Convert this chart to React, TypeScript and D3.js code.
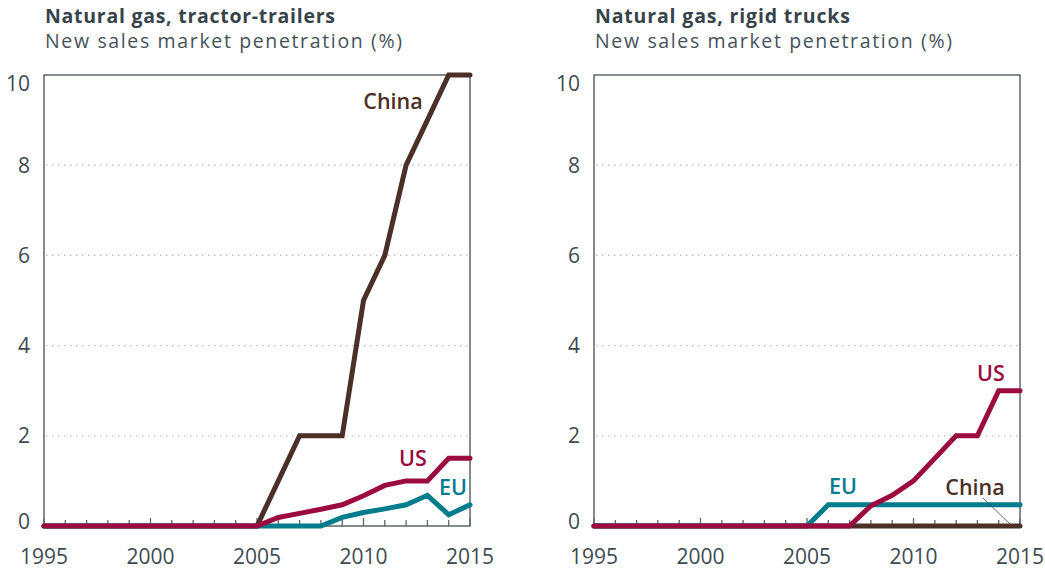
import React, { useEffect, useRef } from "react";
import * as d3 from "d3";

const years = d3.range(1995, 2016);
const yTicks = [0, 2, 4, 6, 8, 10];
const xTicks = [1995, 2000, 2005, 2010, 2015];

// Tractor-trailers
const ttChina = [0,0,0,0,0,0,0,0,0,0,0,1,2,2,2,5,6,8,9,10,10];
const ttUS    = [0,0,0,0,0,0,0,0,0,0,0,0.19,0.28,0.37,0.47,0.67,0.9,1.0,1.0,1.5,1.5];
const ttEU    = [0,0,0,0,0,0,0,0,0,0,0,0,0,0,0.19,0.3,0.38,0.47,0.68,0.25,0.47];

// Rigid trucks
const rtChina = [0,0,0,0,0,0,0,0,0,0,0,0,0,0,0,0,0,0,0,0,0];
const rtUS    = [0,0,0,0,0,0,0,0,0,0,0,0,0,0.45,0.68,1.0,1.5,2.0,2.0,3.0,3.0];
const rtEU    = [0,0,0,0,0,0,0,0,0,0,0,0.47,0.47,0.47,0.47,0.47,0.47,0.47,0.47,0.47,0.47];

const COLORS = { China: "#4b3027", US: "#9c0b3f", EU: "#007c8c" };
const TEXT = "#3e4a52";
const FONT = "'Open Sans', 'Noto Sans', sans-serif";

type Panel = {
  x0: number;
  title: string;
  titleLen: number;
  series: { name: string; values: number[] }[];
  labels: { name: string; x: number; y: number }[];
  leader?: [number, number, number, number];
};

const panels: Panel[] = [
  {
    x0: 44,
    title: "Natural gas, tractor-trailers",
    titleLen: 290,
    series: [
      { name: "China", values: ttChina },
      { name: "EU", values: ttEU },
      { name: "US", values: ttUS },
    ],
    labels: [
      { name: "China", x: 393, y: 109 },
      { name: "US", x: 413, y: 466 },
      { name: "EU", x: 453, y: 495 },
    ],
  },
  {
    x0: 594,
    title: "Natural gas, rigid trucks",
    titleLen: 255,
    series: [
      { name: "China", values: rtChina },
      { name: "EU", values: rtEU },
      { name: "US", values: rtUS },
    ],
    labels: [
      { name: "US", x: 991, y: 381 },
      { name: "EU", x: 843, y: 494 },
      { name: "China", x: 975, y: 495 },
    ],
    leader: [983, 498, 1010, 524],
  },
];

export default function App() {
  const ref = useRef<SVGSVGElement>(null);
  useEffect(() => {
    const svg = d3.select(ref.current);
    svg.selectAll("*").remove();
    const W = 426;
    const top = 75, bottom = 526;
    panels.forEach((p) => {
      const g = svg.append("g");
      const x = d3.scaleLinear().domain([1995, 2015]).range([p.x0, p.x0 + W]);
      const y = d3.scaleLinear().domain([0, 10]).range([bottom, top]);

      g.append("text").attr("x", p.x0 + 1).attr("y", 23).attr("font-family", FONT)
        .attr("font-weight", 700).attr("font-size", 19.5).attr("fill", "#37434b")
        .attr("textLength", p.titleLen).attr("lengthAdjust", "spacing").text(p.title);
      g.append("text").attr("x", p.x0 + 1).attr("y", 48).attr("font-family", FONT)
        .attr("font-size", 19.5).attr("fill", "#46525a")
        .attr("textLength", 357).attr("lengthAdjust", "spacing")
        .text("New sales market penetration (%)");

      // gridlines
      g.selectAll(".grid").data(yTicks.filter((t) => t > 0 && t < 10)).enter().append("line")
        .attr("x1", p.x0 + 2).attr("x2", p.x0 + W - 2)
        .attr("y1", (d) => y(d)).attr("y2", (d) => y(d))
        .attr("stroke", "#b8bcbf").attr("stroke-width", 1.2).attr("stroke-dasharray", "1.5,4.5");

      // frame
      g.append("rect").attr("x", p.x0).attr("y", top).attr("width", W).attr("height", bottom - top)
        .attr("fill", "none").attr("stroke", "#5d676e").attr("stroke-width", 1.5);

      // x ticks
      g.selectAll(".xt").data(years).enter().append("line")
        .attr("x1", (d) => x(d)).attr("x2", (d) => x(d))
        .attr("y1", bottom).attr("y2", (d) => bottom - (d % 5 === 0 ? 8 : 6))
        .attr("stroke", "#5d676e").attr("stroke-width", 1.3);

      // y labels
      g.selectAll(".yl").data(yTicks).enter().append("text")
        .attr("x", p.x0 - 14)
        .attr("y", (d) => y(d) + 7.5 + (d === 10 ? 8 : d === 0 ? -5 : 0))
        .attr("text-anchor", "end")
        .attr("font-family", FONT).attr("font-size", 21).attr("fill", TEXT).text((d) => d);

      // x labels
      g.selectAll(".xl").data(xTicks).enter().append("text")
        .attr("x", (d) => x(d)).attr("y", 564).attr("text-anchor", "middle")
        .attr("font-family", FONT).attr("font-size", 21).attr("fill", TEXT).text((d) => d);

      const line = d3.line<number>().x((_, i) => x(years[i])).y((d) => y(d));
      p.series.forEach((s) => {
        g.append("path").attr("d", line(s.values)!).attr("fill", "none")
          .attr("stroke", (COLORS as any)[s.name]).attr("stroke-width", 5)
          .attr("stroke-linejoin", "miter").attr("stroke-linecap", "round");
      });

      if (p.leader) {
        const [a, b, c, d] = p.leader;
        g.append("line").attr("x1", a).attr("y1", b).attr("x2", c).attr("y2", d)
          .attr("stroke", "#3e4a52").attr("stroke-width", 0.8);
      }

      p.labels.forEach((l) => {
        g.append("text").attr("x", l.x).attr("y", l.y).attr("text-anchor", "middle")
          .attr("font-family", FONT).attr("font-weight", 600).attr("font-size", 21.5)
          .attr("fill", (COLORS as any)[l.name]).text(l.name);
      });
    });
  }, []);
  return (
    <svg ref={ref} width={1045} height={571}
      style={{ position: "absolute", left: 0, top: 0, background: "#fff" }} />
  );
}
